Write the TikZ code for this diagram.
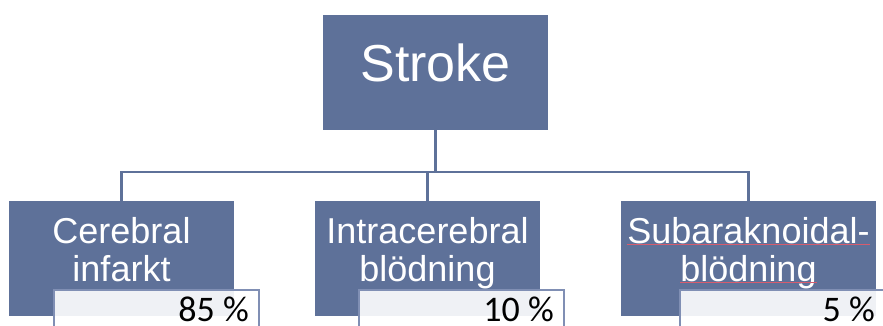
\documentclass[tikz,border=0pt]{standalone}
\usepackage{fontspec}
\setmainfont{Liberation Sans}
\newfontfamily\calibri{Carlito}
\definecolor{boxblue}{RGB}{94,113,153}
\definecolor{pctedge}{RGB}{128,143,180}
\definecolor{spellred}{RGB}{214,92,110}
\begin{document}
\begin{tikzpicture}[x=1pt,y=-1pt,
  catbox/.style={rectangle, fill=boxblue, draw=none, minimum width=225pt,
    minimum height=115pt, inner sep=0pt},
  toptext/.style={text=white, font=\fontsize{52}{60}\selectfont, inner sep=0pt},
  cattext/.style={text=white, font=\fontsize{36}{38}\selectfont, inner sep=0pt},
  pctbox/.style={rectangle, fill=white, fill opacity=0.9, draw=pctedge,
    draw opacity=1, line width=1.4pt, minimum width=205pt, minimum height=50pt,
    inner sep=0pt},
  pcttext/.style={text=black, font=\calibri\fontsize{36}{40}\selectfont, inner sep=0pt},
  link/.style={draw=boxblue, line width=2.2pt},
  spell/.style={draw=spellred, line width=0.6pt}]
\useasboundingbox (0,0) rectangle (883,326);
\clip (0,0) rectangle (883,326);

% root
\node[catbox] (stroke) at (435.5,72.5) {};
\node[toptext, anchor=base] (strokelabel) at (435.5,82) {Stroke};

% categories
\node[catbox] (c1) at (121.5,258.5) {};
\node[catbox] (c2) at (427.5,258.5) {};
\node[catbox, minimum width=255pt] (c3) at (748.5,258.5) {};

\node[cattext, anchor=base] (c1a) at (121.5,243) {Cerebral};
\node[cattext, anchor=base] (c1b) at (121.5,281) {infarkt};
\node[cattext, anchor=base] (c2a) at (427.5,243) {Intracerebral};
\node[cattext, anchor=base] (c2b) at (427.5,281) {blödning};
\node[cattext, anchor=base] (c3a) at (748.5,243) {Subaraknoidal-};
\node[cattext, anchor=base] (c3b) at (748.5,281) {blödning};

% spell-check underlines
\draw[spell] (c3a.base west) ++(0,1.5) -- ([yshift=-1.5pt]c3a.base east);
\draw[spell] (c3b.base west) ++(0,1.5) -- ([yshift=-1.5pt]c3b.base east);

% share boxes
\node[pctbox] (p1) at (156.5,315) {};
\node[pctbox] (p2) at (461.5,315) {};
\node[pctbox] (p3) at (782.5,315) {};
\node[pcttext, anchor=base east] (p1t) at (249,321) {85 \%};
\node[pcttext, anchor=base east] (p2t) at (554,321) {10 \%};
\node[pcttext, anchor=base east] (p3t) at (875,321) {5 \%};

% connectors
\coordinate (bus) at (435.5,172);
\draw[link] (stroke.south) -- (bus);
\draw[link] (bus) -| (c1.north);
\draw[link] (bus) -| (c2.north);
\draw[link] (bus) -| (c3.north);
\end{tikzpicture}
\end{document}
